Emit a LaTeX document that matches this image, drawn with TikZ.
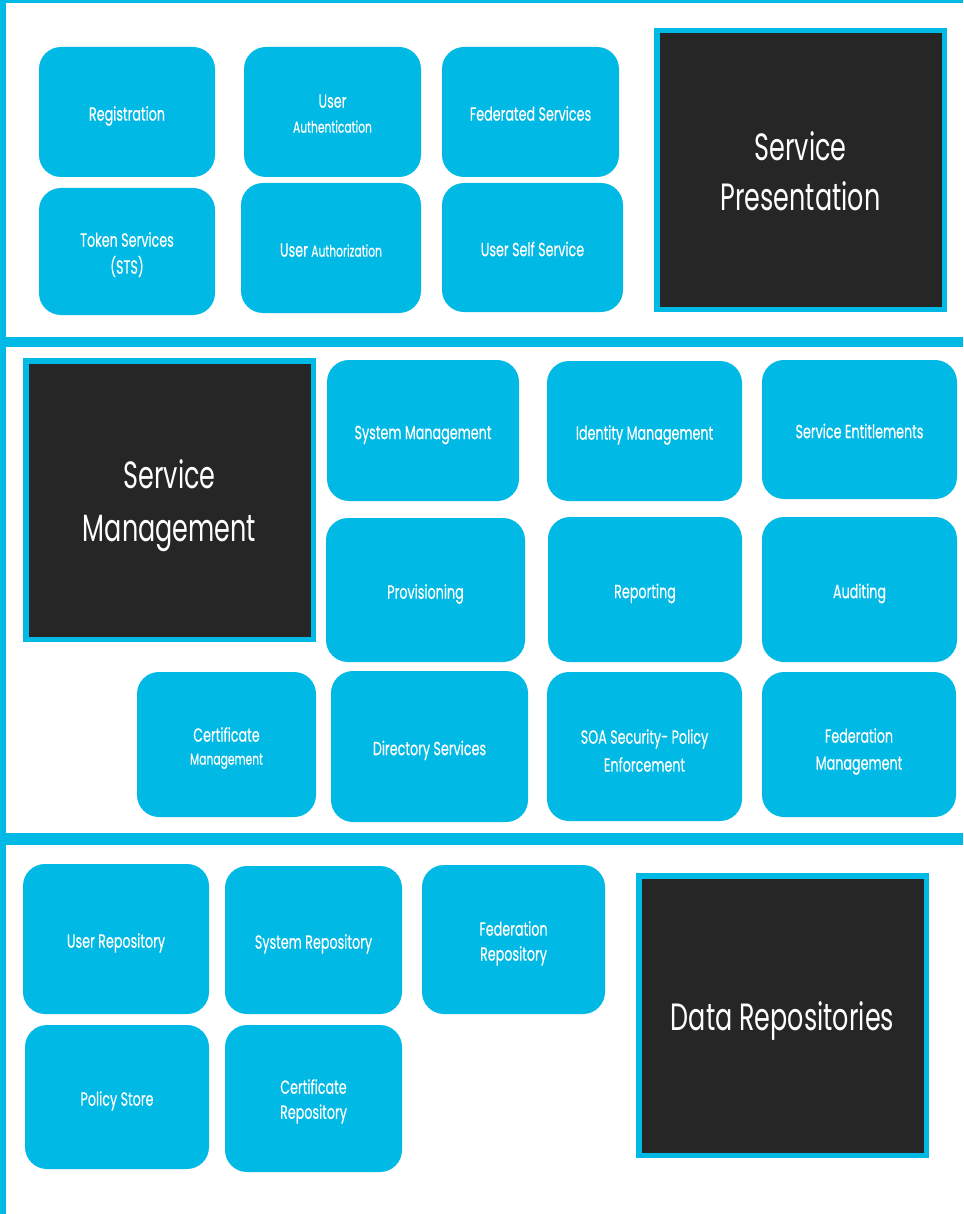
\documentclass[tikz,border=0pt]{standalone}
\usepackage{fontspec}
\setmainfont[FakeStretch=0.67]{Poppins}
\newfontfamily\boxfont[FakeStretch=0.67,FakeBold=0.4]{Poppins}
\definecolor{cyanb}{RGB}{0,185,228}
\definecolor{darkb}{RGB}{38,38,38}
\newcommand{\sm}[1]{{\fontsize{16}{22}\selectfont #1}}
\newcommand{\ds}{\rule[-6pt]{0pt}{0pt}}
\newcommand{\db}{\rule[-12pt]{0pt}{0pt}}
\newcommand{\ml}[2][25.1pt]{\rule{0pt}{#1}\begin{tabular}[t]{@{}c@{}}#2\end{tabular}}
\begin{document}
\begin{tikzpicture}[x=1pt,y=-1pt,
  box/.style={fill=cyanb, rounded corners=22pt, inner sep=0pt, text=white,
    font=\boxfont\fontsize{19}{26}\selectfont,
    execute at begin node={\rule{0pt}{23.3pt}}},
  darkbox/.style={fill=darkb, draw=cyanb, line width=5.5pt, inner sep=0pt, text=white,
    font=\fontsize{38}{52}\selectfont,
    execute at begin node={\rule{0pt}{42.6pt}}},
  band/.style={fill=cyanb, draw=none}]
\useasboundingbox (0,0) rectangle (963,1214);
\fill[white] (0,0) rectangle (963,1214);
% panel frames
\fill[band] (0,0) rectangle (6,1214);
\fill[band] (0,0) rectangle (963,3);
\fill[band] (0,337) rectangle (963,347);
\fill[band] (0,833) rectangle (963,845);
% panel 1
\node[box, minimum width=176pt, minimum height=130pt] (reg) at (127,112) {Registration\ds};
\node[box, minimum width=177pt, minimum height=130pt] (uauth) at (332.5,112) {\ml[24.1pt]{User\\[-1pt]\sm{Authentication}}};
\node[box, minimum width=177pt, minimum height=130pt] (fed) at (530.5,112) {Federated Services\ds};
\node[box, minimum width=176pt, minimum height=127pt] (tok) at (127,251.5) {\ml{Token Services\\[1pt](STS)}};
\node[box, minimum width=180pt, minimum height=130pt] (uaz) at (331,248) {User \sm{Authorization}\ds};
\node[box, minimum width=181pt, minimum height=129pt] (uss) at (532.5,247.5) {User Self Service\ds};
\node[darkbox, minimum width=287.5pt, minimum height=278.5pt] (sp) at (800.5,170) {\ml[46.2pt]{Service\\[-2pt]Presentation}};
% panel 2
\node[darkbox, minimum width=287.5pt, minimum height=278.5pt] (smg) at (169.5,500) {\ml[45.2pt]{Service\\[1pt]Management}};
\node[box, minimum width=192pt, minimum height=141pt] (sysm) at (423,430.5) {System Management\ds};
\node[box, minimum width=195pt, minimum height=140pt] (idm) at (644.5,431) {Identity Management\ds};
\node[box, minimum width=195pt, minimum height=139pt] (se) at (859.5,429.5) {Service Entitlements\ds};
\node[box, minimum width=199pt, minimum height=144pt] (prov) at (425.5,590) {Provisioning\ds};
\node[box, minimum width=194pt, minimum height=145pt] (rep) at (645,589.5) {Reporting\ds};
\node[box, minimum width=195pt, minimum height=145pt] (aud) at (859.5,589.5) {Auditing\ds};
\node[box, minimum width=179pt, minimum height=145pt] (cm) at (226.5,744.5) {\ml{Certificate\\[-3pt]\sm{Management}}};
\node[box, minimum width=197pt, minimum height=151pt] (ds) at (429.5,746.5) {Directory Services\ds};
\node[box, minimum width=195pt, minimum height=149pt] (soa) at (644.5,746.5) {\ml[30.1pt]{SOA Security- Policy\\[2pt]Enforcement}};
\node[box, minimum width=194pt, minimum height=145pt] (fm) at (859,744.5) {\ml[31.1pt]{Federation\\[1pt]Management}};
% panel 3
\node[box, minimum width=186pt, minimum height=150pt] (ur) at (116,939) {User Repository\ds};
\node[box, minimum width=177pt, minimum height=148pt] (sr) at (313.5,940) {System Repository\ds};
\node[box, minimum width=183pt, minimum height=149pt] (fr) at (513.5,939.5) {\ml{Federation\\[-1pt]Repository}};
\node[box, minimum width=184pt, minimum height=144pt] (ps) at (117,1097) {Policy Store\ds};
\node[box, minimum width=177pt, minimum height=147pt] (cr) at (313.5,1098.5) {\ml[23.1pt]{Certificate\\[-1pt]Repository}};
\node[darkbox, minimum width=287.5pt, minimum height=279.5pt] (dr) at (782.5,1015.5) {Data Repositories\db};
\end{tikzpicture}
\end{document}
